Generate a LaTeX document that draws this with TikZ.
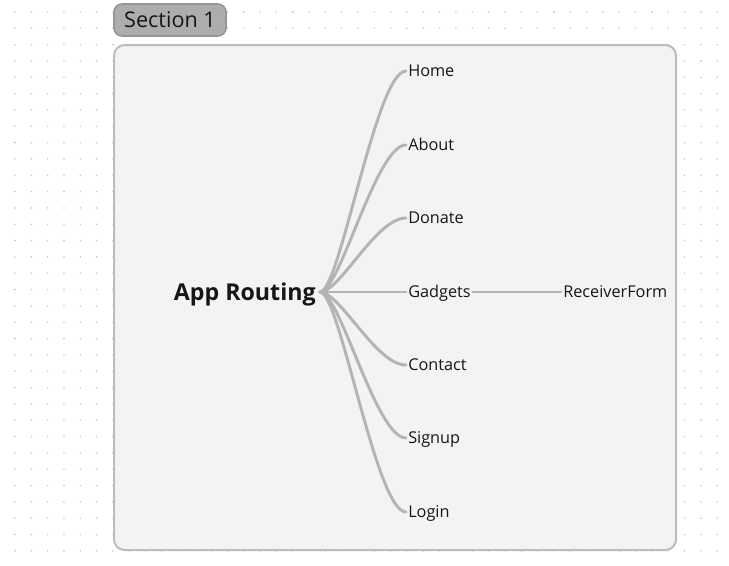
\documentclass[tikz,border=0pt]{standalone}
\usepackage{fontspec}
\setmainfont{Open Sans}
\usepackage{xcolor}
\definecolor{dotgray}{RGB}{200,200,200}
\definecolor{panelfill}{RGB}{243,243,243}
\definecolor{paneledge}{RGB}{188,188,188}
\definecolor{tagfill}{RGB}{173,173,173}
\definecolor{tagedge}{RGB}{150,150,150}
\definecolor{linkgray}{RGB}{180,180,180}
\definecolor{inkblack}{RGB}{22,22,22}
\tikzset{
  route/.style={anchor=west, inner sep=1.5pt, text height=8.7pt, text depth=0pt, text=inkblack, font=\fontsize{12.2}{14}\selectfont},
  branch/.style={draw=linkgray, line width=2.2pt, line cap=round},
}

\begin{document}
\begin{tikzpicture}[x=0.75pt,y=0.75pt,yscale=-1,xscale=1]
\useasboundingbox (0,0) rectangle (729,565); %set diagram to 729 x 565

%Shape: Dot grid
\foreach \i in {0,...,43}
  \foreach \j in {0,...,33}
    \fill [dotgray] (15+\i*16.33,12+\j*16.33) circle (0.9);

%Shape: Rounded Rect (panel)
\draw [draw=paneledge, fill=panelfill, line width=1.5, rounded corners=8] (114,45) rectangle (676,550);

%Shape: Rounded Rect (section tag)
\draw [draw=tagedge, fill=tagfill, line width=1.2, rounded corners=6] (114,4) rectangle (226,36);
% Text Node
\draw (170,20) node [text=inkblack, text height=11.6pt, text depth=0pt, font=\fontsize{16.2}{18}\selectfont] {Section 1};

% Text Node
\node (root) [anchor=east, inner sep=3pt, text height=12.4pt, text depth=0pt, text=inkblack, font=\fontsize{17.4}{20}\bfseries\selectfont] at (320,292) {App Routing};

% Text Node
\node (home) [route] at (406,71) {Home};
% Text Node
\node (about) [route] at (406,145) {About};
% Text Node
\node (donate) [route] at (406,218) {Donate};
% Text Node
\node (gadgets) [route] at (406,292) {Gadgets};
% Text Node
\node (contact) [route] at (406,365) {Contact};
% Text Node
\node (signup) [route] at (406,438) {Signup};
% Text Node
\node (login) [route] at (406,512) {Login};
% Text Node
\node (receiver) [route] at (561,292) {ReceiverForm};

%Curve Lines
\draw [branch] (root.east) .. controls +(20,0) and +(-30,0) .. (home.west);
\draw [branch] (root.east) .. controls +(20,0) and +(-30,0) .. (about.west);
\draw [branch] (root.east) .. controls +(20,0) and +(-30,0) .. (donate.west);
\draw [branch] (root.east) -- (gadgets.west);
\draw [branch] (root.east) .. controls +(20,0) and +(-30,0) .. (contact.west);
\draw [branch] (root.east) .. controls +(20,0) and +(-30,0) .. (signup.west);
\draw [branch] (root.east) .. controls +(20,0) and +(-30,0) .. (login.west);

%Straight Lines
\draw [branch] (gadgets.east) -- (receiver.west);

\end{tikzpicture}
\end{document}
